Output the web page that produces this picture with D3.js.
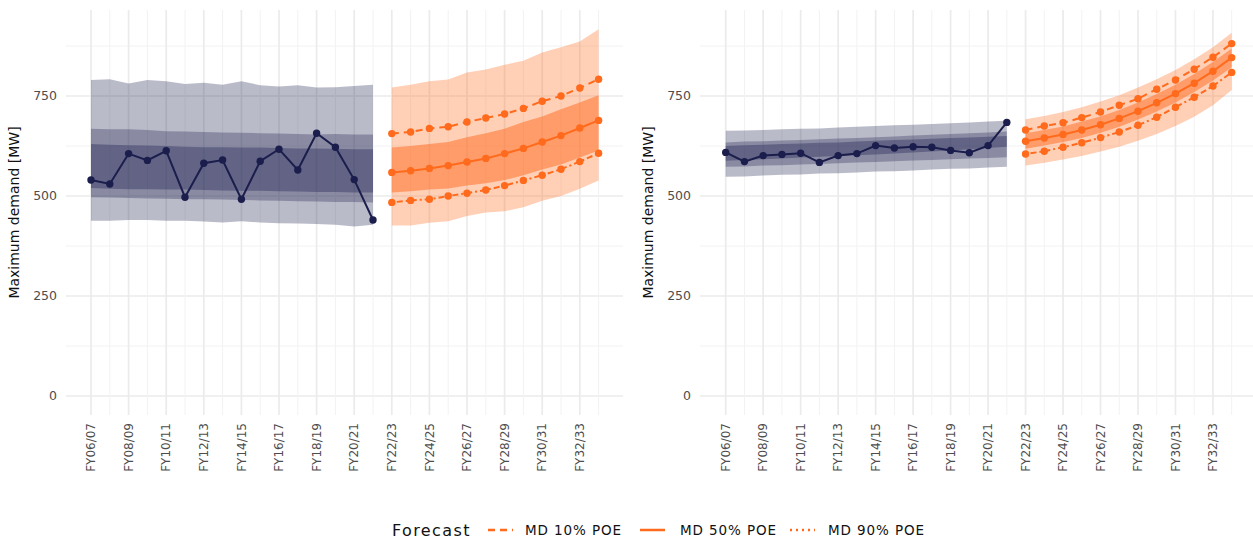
<!DOCTYPE html>
<html>
<head>
<meta charset="utf-8">
<script src="https://cdn.jsdelivr.net/npm/d3@7"></script>
<style>
  body { margin: 0; background: #ffffff; }
  text { font-family: "DejaVu Sans", "Noto Sans", sans-serif; }
</style>
</head>
<body>
<div id="canvas"></div>
<script>
// data
var years = ["FY06/07","FY07/08","FY08/09","FY09/10","FY10/11","FY11/12","FY12/13","FY13/14",
             "FY14/15","FY15/16","FY16/17","FY17/18","FY18/19","FY19/20","FY20/21","FY21/22",
             "FY22/23","FY23/24","FY24/25","FY25/26","FY26/27","FY27/28","FY28/29","FY29/30",
             "FY30/31","FY31/32","FY32/33","FY33/34"];
var yTicks = [0, 250, 500, 750];
var legendNames = ["MD 10% POE", "MD 50% POE", "MD 90% POE"];

// left panel, history
var leftActual   = [540, 530, 606, 589, 613, 497, 582, 590, 492, 587, 617, 565, 657, 622, 541, 440];
var leftOuterHi  = [790, 792, 781, 790, 787, 780, 783, 778, 787, 777, 774, 777, 771, 772, 775, 778];
var leftOuterLo  = [438, 438, 440, 440, 438, 438, 436, 434, 437, 434, 432, 431, 430, 428, 424, 428];
var leftMidHi    = [668, 667, 667, 665, 662, 661, 660, 659, 658, 657, 656, 655, 654, 655, 654, 654];
var leftMidLo    = [497, 496, 495, 494, 493, 492, 492, 491, 490, 489, 488, 487, 486, 485, 485, 484];
var leftInnerHi  = [630, 628, 627, 626, 625, 623, 622, 622, 621, 621, 620, 619, 619, 618, 617, 617];
var leftInnerLo  = [520, 518, 517, 517, 516, 516, 515, 514, 513, 513, 512, 511, 510, 510, 509, 509];
// left panel, forecast
var leftPoe10    = [656, 660, 669, 673, 685, 695, 705, 719, 737, 750, 770, 792];
var leftPoe50    = [559, 563, 569, 576, 585, 594, 606, 619, 635, 651, 670, 689];
var leftPoe90    = [484, 489, 492, 500, 507, 515, 526, 539, 552, 567, 586, 607];
var leftFcOuterHi = [771, 778, 787, 791, 809, 816, 828, 838, 859, 872, 886, 917];
var leftFcOuterLo = [426, 426, 433, 437, 450, 459, 462, 472, 488, 500, 518, 539];
var leftFcInnerHi = [621, 625, 630, 635, 647, 657, 668, 685, 699, 717, 734, 752];
var leftFcInnerLo = [509, 512, 516, 519, 526, 532, 540, 552, 566, 579, 596, 614];

// right panel, history
var rightActual  = [609, 586, 601, 604, 607, 584, 601, 606, 626, 620, 623, 622, 614, 608, 626, 684];
var rightOuterHi = [663, 664, 665, 667, 668, 669, 671, 673, 675, 677, 678, 680, 682, 684, 686, 688];
var rightOuterLo = [548, 549, 551, 553, 554, 556, 557, 559, 561, 562, 564, 566, 568, 569, 571, 573];
var rightMidHi   = [634, 636, 637, 639, 640, 642, 644, 645, 647, 649, 651, 653, 655, 657, 659, 661];
var rightMidLo   = [573, 574, 576, 577, 579, 580, 582, 584, 585, 587, 589, 590, 592, 594, 595, 597];
var rightInnerHi = [625, 627, 628, 630, 631, 633, 634, 636, 638, 640, 641, 643, 645, 646, 648, 650];
var rightInnerLo = [588, 590, 592, 594, 596, 598, 600, 602, 604, 606, 609, 611, 614, 617, 620, 623];
// right panel, forecast
var rightPoe10   = [665, 675, 683, 696, 710, 727, 743, 767, 790, 817, 847, 881];
var rightPoe50   = [637, 645, 654, 665, 678, 694, 712, 733, 756, 782, 812, 846];
var rightPoe90   = [605, 612, 622, 633, 646, 660, 677, 697, 722, 747, 775, 809];
var rightFcOuterHi = [692, 700, 710, 722, 736, 752, 771, 792, 815, 842, 872, 908];
var rightFcOuterLo = [576, 583, 591, 600, 611, 623, 638, 655, 675, 698, 727, 765];
var rightFcInnerHi = [657, 665, 674, 686, 699, 715, 734, 755, 778, 805, 835, 869];
var rightFcInnerLo = [618, 626, 635, 645, 658, 673, 691, 711, 734, 760, 789, 822];

// layout
var canvasWidth = 1253, canvasHeight = 540;
var panelTop = 10, panelBottom = 415;
var navy = "#1b1e4c", orange = "#ff6a1c";
var histCount = 16;

var svg = d3.select("#canvas").append("svg")
    .attr("width", canvasWidth)
    .attr("height", canvasHeight)
    .attr("viewBox", "0 0 " + canvasWidth + " " + canvasHeight);

var y = d3.scaleLinear().domain([0, 750]).range([396, 96]);

function drawPanel(p)
{
    var x = d3.scaleLinear().domain([0, years.length - 1]).range([p.x0, p.x1]);
    var g = svg.append("g");

    var clipId = "clip" + p.id;
    g.append("clipPath").attr("id", clipId)
        .append("rect")
        .attr("x", p.left).attr("y", panelTop)
        .attr("width", p.right - p.left).attr("height", panelBottom - panelTop);

    // grid
    var grid = g.append("g");
    var minorY = [125, 375, 625, 875];
    grid.selectAll(".ymin").data(minorY).enter().append("line")
        .attr("x1", p.left).attr("x2", p.right)
        .attr("y1", function(d) { return y(d); }).attr("y2", function(d) { return y(d); })
        .attr("stroke", "#f2f2f2").attr("stroke-width", 1);
    grid.selectAll(".ymaj").data(yTicks).enter().append("line")
        .attr("x1", p.left).attr("x2", p.right)
        .attr("y1", function(d) { return y(d); }).attr("y2", function(d) { return y(d); })
        .attr("stroke", "#ebebeb").attr("stroke-width", 1.7);
    grid.selectAll(".xgrid").data(years).enter().append("line")
        .attr("x1", function(d, i) { return x(i); }).attr("x2", function(d, i) { return x(i); })
        .attr("y1", panelTop).attr("y2", panelBottom)
        .attr("stroke", function(d, i) { return i % 2 == 0 ? "#ebebeb" : "#f2f2f2"; })
        .attr("stroke-width", function(d, i) { return i % 2 == 0 ? 1.7 : 1; });

    var plot = g.append("g").attr("clip-path", "url(#" + clipId + ")");

    function band(hi, lo, offset, color, alpha)
    {
        var area = d3.area()
            .x(function(d, i) { return x(i + offset); })
            .y0(function(d, i) { return y(lo[i]); })
            .y1(function(d) { return y(d); });
        plot.append("path").datum(hi)
            .attr("d", area)
            .attr("fill", color)
            .attr("fill-opacity", alpha);
    }

    function series(vals, offset, color, dash)
    {
        var line = d3.line()
            .x(function(d, i) { return x(i + offset); })
            .y(function(d) { return y(d); });
        plot.append("path").datum(vals)
            .attr("d", line)
            .attr("fill", "none")
            .attr("stroke", color)
            .attr("stroke-width", 2)
            .attr("stroke-dasharray", dash);
        plot.selectAll(null).data(vals).enter().append("circle")
            .attr("cx", function(d, i) { return x(i + offset); })
            .attr("cy", function(d) { return y(d); })
            .attr("r", 3.7)
            .attr("fill", color);
    }

    band(p.outerHi, p.outerLo, 0, navy, 0.3);
    band(p.midHi, p.midLo, 0, navy, 0.3);
    band(p.innerHi, p.innerLo, 0, navy, 0.35);
    band(p.fcOuterHi, p.fcOuterLo, histCount, orange, 0.32);
    band(p.fcInnerHi, p.fcInnerLo, histCount, orange, 0.5);

    series(p.actual, 0, navy, null);
    series(p.poe10, histCount, orange, "7,5");
    series(p.poe50, histCount, orange, null);
    series(p.poe90, histCount, orange, "2,3,6,3");

    // y axis labels
    g.selectAll(".ylab").data(yTicks).enter().append("text")
        .attr("x", p.left - 9)
        .attr("y", function(d) { return y(d); })
        .attr("dy", "0.35em")
        .attr("text-anchor", "end")
        .attr("font-size", 12.5)
        .attr("fill", "#4d4d4d")
        .text(function(d) { return d; });

    g.append("text")
        .attr("transform", "translate(" + p.titleX + "," + ((panelTop + panelBottom) / 2) + ") rotate(-90)")
        .attr("text-anchor", "middle")
        .attr("font-size", 14)
        .attr("fill", "#111")
        .text("Maximum demand [MW]");

    // x axis labels, every second year
    g.selectAll(".xlab").data(years.filter(function(d, i) { return i % 2 == 0 && i < 27; }))
        .enter().append("text")
        .attr("transform", function(d) {
            return "translate(" + x(years.indexOf(d)) + "," + (panelBottom + 8) + ") rotate(-90)";
        })
        .attr("dy", "0.35em")
        .attr("text-anchor", "end")
        .attr("font-size", 12)
        .attr("fill", "#4d4d4d")
        .text(function(d) { return d; });
}

drawPanel({
    id: "L", left: 66, right: 623, x0: 91, x1: 598.6, titleX: 19,
    actual: leftActual, outerHi: leftOuterHi, outerLo: leftOuterLo,
    midHi: leftMidHi, midLo: leftMidLo, innerHi: leftInnerHi, innerLo: leftInnerLo,
    poe10: leftPoe10, poe50: leftPoe50, poe90: leftPoe90,
    fcOuterHi: leftFcOuterHi, fcOuterLo: leftFcOuterLo,
    fcInnerHi: leftFcInnerHi, fcInnerLo: leftFcInnerLo
});

drawPanel({
    id: "R", left: 700, right: 1253, x0: 725.7, x1: 1231.7, titleX: 653,
    actual: rightActual, outerHi: rightOuterHi, outerLo: rightOuterLo,
    midHi: rightMidHi, midLo: rightMidLo, innerHi: rightInnerHi, innerLo: rightInnerLo,
    poe10: rightPoe10, poe50: rightPoe50, poe90: rightPoe90,
    fcOuterHi: rightFcOuterHi, fcOuterLo: rightFcOuterLo,
    fcInnerHi: rightFcInnerHi, fcInnerLo: rightFcInnerLo
});

// legend
var legend = svg.append("g");
var legendY = 530;
legend.append("text")
    .attr("x", 392).attr("y", legendY).attr("dy", "0.35em")
    .attr("font-size", 16).attr("letter-spacing", 1.4).attr("fill", "#111")
    .text("Forecast");

var keyDash = ["7,5", null, "2,4"];
var keyX = [488, 640, 790];
var keyTextX = [525, 680, 828];
legend.selectAll(".key").data(legendNames).enter().append("line")
    .attr("x1", function(d, i) { return keyX[i]; })
    .attr("x2", function(d, i) { return keyX[i] + 25; })
    .attr("y1", legendY).attr("y2", legendY)
    .attr("stroke", orange)
    .attr("stroke-width", 2.5)
    .attr("stroke-dasharray", function(d, i) { return keyDash[i]; });
legend.selectAll(".keytext").data(legendNames).enter().append("text")
    .attr("x", function(d, i) { return keyTextX[i]; })
    .attr("y", legendY).attr("dy", "0.35em")
    .attr("font-size", 13.5).attr("letter-spacing", 0.9).attr("fill", "#111")
    .text(function(d) { return d; });
</script>
</body>
</html>
